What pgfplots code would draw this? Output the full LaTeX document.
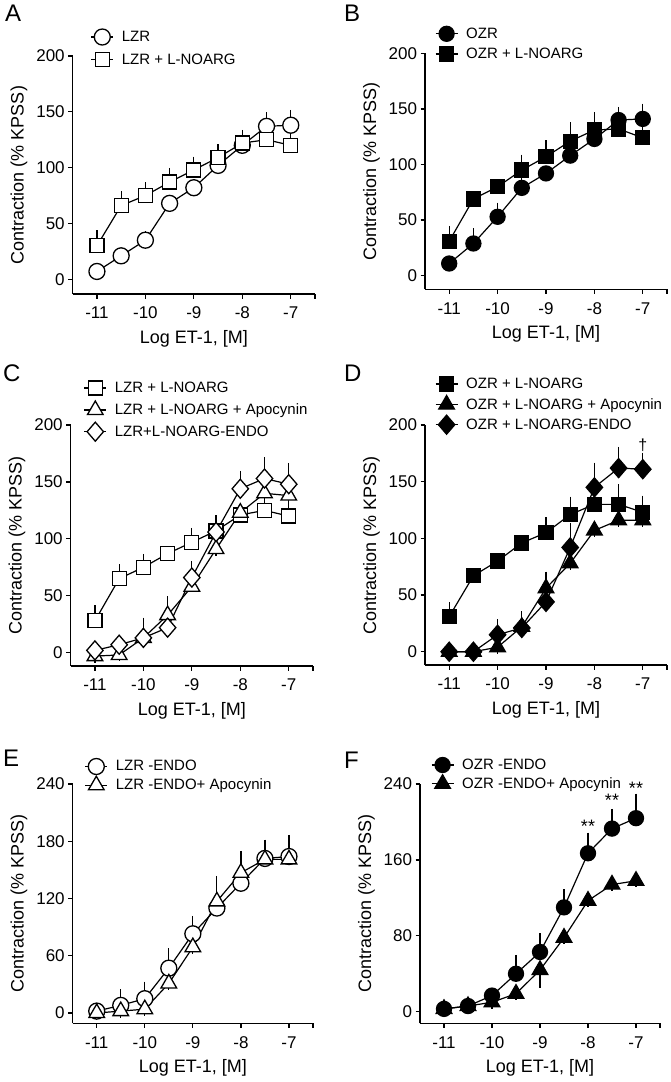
\documentclass[border=0pt]{standalone}
\usepackage{fontspec}
\setmainfont{Liberation Sans}
\usepackage{pgfplots}
\usepackage{pgfplotstable}
\pgfplotsset{compat=1.18}
\newcommand\fs[1]{\fontsize{#1}{#1}\selectfont}

% ---- data: x = log[ET-1], y = contraction (% KPSS), e = SEM ----
\pgfplotstableread{
x y e
-11 7 0
-10.5 21 0
-10 35 2
-9.5 68 0
-9 82 0
-8.5 102 0
-8 120 0
-7.5 137 7
-7 138 8
}\tAa
\pgfplotstableread{
x y e
-11 30 8
-10.5 66 7
-10 75 6
-9.5 87 7
-9 98 6
-8.5 109 6
-8 122 6
-7.5 125 6
-7 120 8
}\tAb
\pgfplotstableread{
x y e
-11 11 0
-10.5 29 8
-10 53 7
-9.5 79 7
-9 92 0
-8.5 108 0
-8 123 0
-7.5 140 6
-7 141 8
}\tBa
\pgfplotstableread{
x y e
-11 31 8
-10.5 69 0
-10 80 0
-9.5 95 8
-9 107 9
-8.5 121 11
-8 131 10
-7.5 132 0
-7 124 9
}\tBb
\pgfplotstableread{
x y e
-11 28 8
-10.5 65 7
-10 75 6
-9.5 87 0
-9 97 7
-8.5 107 8
-8 121 0
-7.5 125 4
-7 120 7
}\tCa
\pgfplotstableread{
x y e
-11 -3 0
-10.5 -2 0
-10 13 12
-9.5 33 11
-9 58 16
-8.5 91 0
-8 123 0
-7.5 140 0
-7 138 0
}\tCb
\pgfplotstableread{
x y e
-11 2 0
-10.5 7 0
-10 13 0
-9.5 22 0
-9 66 9
-8.5 106 8
-8 144 10
-7.5 153 13
-7 148 13
}\tCc
\pgfplotstableread{
x y e
-11 31 7
-10.5 67 0
-10 80 0
-9.5 96 0
-9 105 8
-8.5 121 10
-8 130 0
-7.5 130 12
-7 123 9
}\tDa
\pgfplotstableread{
x y e
-11 0 0
-10.5 0 0
-10 4 0
-9.5 22 0
-9 56 9
-8.5 78 0
-8 107 0
-7.5 116 0
-7 116 0
}\tDb
\pgfplotstableread{
x y e
-11 0 0
-10.5 0 0
-10 15 8
-9.5 21 9
-9 44 0
-8.5 92 16
-8 145 16
-7.5 162 13
-7 161 9
}\tDc
\pgfplotstableread{
x y e
-11 2 0
-10.5 8 10
-10 15 11
-9.5 47 14
-9 83 12
-8.5 110 0
-8 136 0
-7.5 162 0
-7 164 16
}\tEa
\pgfplotstableread{
x y e
-11 0 0
-10.5 2 0
-10 4 0
-9.5 31 0
-9 69 0
-8.5 117 20
-8 147 16
-7.5 161 14
-7 161 16
}\tEb
\pgfplotstableread{
x y e
-11 3 0
-10.5 6 0
-10 17 0
-9.5 40 13
-9 63 13
-8.5 110 12
-8 167 15
-7.5 193 14
-7 204 19
}\tFa
\pgfplotstableread{
x y e
-11 3 0
-10.5 6 0
-10 10 0
-9.5 19 0
-9 44 12
-8.5 78 0
-8 117 0
-7.5 134 0
-7 138 0
}\tFb

\pgfplotsset{
  prism/.style={
    scale only axis, clip=false,
    axis lines=left, axis line style={-, line width=1.3pt, black},
    xmin=-11.5, xmax=-6.5,
    xtick={-11,-10,-9,-8,-7,-6.5}, xticklabels={-11,-10,-9,-8,-7,{}},
    tick align=outside, major tick length=4.5pt,
    tick style={line width=1.3pt, black},
    tick label style={font=\fs{17}, black},
    xticklabel style={yshift=-5pt},
    xlabel={Log ET-1, [M]}, ylabel={Contraction (\% KPSS)},
    label style={font=\fs{18}},
    xlabel style={at={(axis description cs:0.5,0)}, anchor=base, yshift=-49pt},
    ylabel style={at={([xshift=-49pt]axis description cs:0,0.5)}, anchor=base},
    legend style={draw=none, fill=none, inner sep=0pt, outer sep=0pt,
      font=\fs{15}, nodes={inner sep=0pt},
      /tikz/every odd column/.append style={column sep=8pt},
      at={(axis description cs:0,1)}, anchor=north west},
    legend cell align=left,
    legend image code/.code={\draw[mark repeat=2, mark phase=2] plot coordinates {(0pt,0pt)(11pt,0pt)(22pt,0pt)};},
  },
  ebp/.style={error bars/.cd, y dir=plus, y explicit,
    error bar style={line width=1.2pt, draw=black},
    error mark options={line width=1.2pt, draw=black, mark size=6.5pt}},
  ebm/.style={error bars/.cd, y dir=minus, y explicit,
    error bar style={line width=1.2pt, draw=black},
    error mark options={line width=1.2pt, draw=black, mark size=6.5pt}},
  openC/.style={mark=*, mark size=8pt, mark options={solid, fill=white, draw=black, line width=1.3pt}},
  fillC/.style={mark=*, mark size=7.5pt, mark options={solid, fill=black, draw=black, line width=1.3pt}},
  openS/.style={mark=square*, mark size=7pt, mark options={solid, fill=white, draw=black, line width=1.3pt}},
  fillS/.style={mark=square*, mark size=7pt, mark options={solid, fill=black, draw=black, line width=1.3pt}},
  openT/.style={mark=triangle*, mark size=9pt, mark options={solid, fill=white, draw=black, line width=1.3pt}},
  fillT/.style={mark=triangle*, mark size=9pt, mark options={solid, fill=black, draw=black, line width=1.3pt}},
  openD/.style={mark=diamond*, mark size=9.5pt, mark options={solid, fill=white, draw=black, line width=1.3pt, xscale=1.15}},
  fillD/.style={mark=diamond*, mark size=9.5pt, mark options={solid, fill=black, draw=black, line width=1.3pt, xscale=1.15}},
}

% #1 mark style, #2 table, #3 legend text, #4 error direction style (ebp/ebm)
\newcommand\series[4]{%
  \addplot[draw=none, mark=none, forget plot, #4] table[x=x, y=y, y error=e] {#2};
  \addplot[#1, line width=1.2pt, black] table[x=x, y=y] {#2};
  \addlegendentry{#3}%
}

\begin{document}
\begin{tikzpicture}
\useasboundingbox (0,0) rectangle (670pt,-1082pt);

% ---------- A ----------
\begin{axis}[prism, at={(72.7pt,-294pt)}, anchor=south west, width=242.3pt, height=238pt,
  ymin=-13.2, ymax=200, ytick={0,50,100,150,200}, yticklabels={0,50,100,150,200},
  legend style={xshift=18pt, yshift=27pt, row sep=7.7pt}]
\series{openC}{\tAa}{LZR}{ebp}
\series{openS}{\tAb}{LZR + L-NOARG}{ebp}
\end{axis}

% ---------- B ----------
\begin{axis}[prism, at={(425pt,-289.3pt)}, anchor=south west, width=242pt, height=236pt,
  ymin=-12.2, ymax=200, ytick={0,50,100,150,200}, yticklabels={0,50,100,150,200},
  legend style={xshift=10pt, yshift=27pt, row sep=5.7pt}]
\series{fillC}{\tBa}{OZR}{ebp}
\series{fillS}{\tBb}{OZR + L-NOARG}{ebp}
\end{axis}

% ---------- C ----------
\begin{axis}[prism, at={(70.7pt,-666pt)}, anchor=south west, width=242.3pt, height=241pt,
  ymin=-11.7, ymax=200, ytick={0,50,100,150,200}, yticklabels={0,50,100,150,200},
  legend style={xshift=13pt, yshift=44pt, row sep=6pt}]
\series{openS}{\tCa}{LZR + L-NOARG}{ebp}
\series{openT}{\tCb}{LZR + L-NOARG + Apocynin}{ebp}
\series{openD}{\tCc}{LZR+L-NOARG-ENDO}{ebp}
\end{axis}

% ---------- D ----------
\begin{axis}[prism, at={(425pt,-665pt)}, anchor=south west, width=242pt, height=240pt,
  ymin=-11.7, ymax=200, ytick={0,50,100,150,200}, yticklabels={0,50,100,150,200},
  legend style={xshift=10pt, yshift=48pt, row sep=4.5pt}]
\series{fillS}{\tDa}{OZR + L-NOARG}{ebp}
\series{fillT}{\tDb}{OZR + L-NOARG + Apocynin}{ebp}
\series{fillD}{\tDc}{OZR + L-NOARG-ENDO}{ebp}
\node[font=\fs{16}] at (axis cs:-7,182) {\textdagger};
\end{axis}

% ---------- E ----------
\begin{axis}[prism, at={(72.7pt,-1023.3pt)}, anchor=south west, width=240.3pt, height=239.3pt,
  ymin=-10.8, ymax=240, ytick={0,60,120,180,240}, yticklabels={0,60,120,180,240},
  legend style={xshift=12pt, yshift=25.5pt, row sep=1.7pt}]
\series{openC}{\tEa}{LZR -ENDO}{ebp}
\series{openT}{\tEb}{LZR -ENDO+ Apocynin}{ebp}
\end{axis}

% ---------- F ----------
\begin{axis}[prism, at={(420pt,-1023.3pt)}, anchor=south west, width=240pt, height=239.3pt,
  ymin=-12.2, ymax=240, ytick={0,80,160,240}, yticklabels={0,80,160,240},
  legend style={xshift=11pt, yshift=26.5pt, row sep=2.3pt}]
\series{fillC}{\tFa}{OZR -ENDO}{ebp}
\series{fillT}{\tFb}{OZR -ENDO+ Apocynin}{ebm}
\node[font=\fs{18}] at (axis cs:-8,195) {**};
\node[font=\fs{18}] at (axis cs:-7.5,223) {**};
\node[font=\fs{18}] at (axis cs:-7,235) {**};
\end{axis}

% panel letters
\node[anchor=north west, inner sep=0pt, font=\fs{24}] at (5pt,-5pt) {A};
\node[anchor=north west, inner sep=0pt, font=\fs{24}] at (344pt,-5pt) {B};
\node[anchor=north west, inner sep=0pt, font=\fs{24}] at (3pt,-365pt) {C};
\node[anchor=north west, inner sep=0pt, font=\fs{24}] at (344pt,-365pt) {D};
\node[anchor=north west, inner sep=0pt, font=\fs{24}] at (3pt,-750pt) {E};
\node[anchor=north west, inner sep=0pt, font=\fs{24}] at (344pt,-752pt) {F};
\end{tikzpicture}
\end{document}
